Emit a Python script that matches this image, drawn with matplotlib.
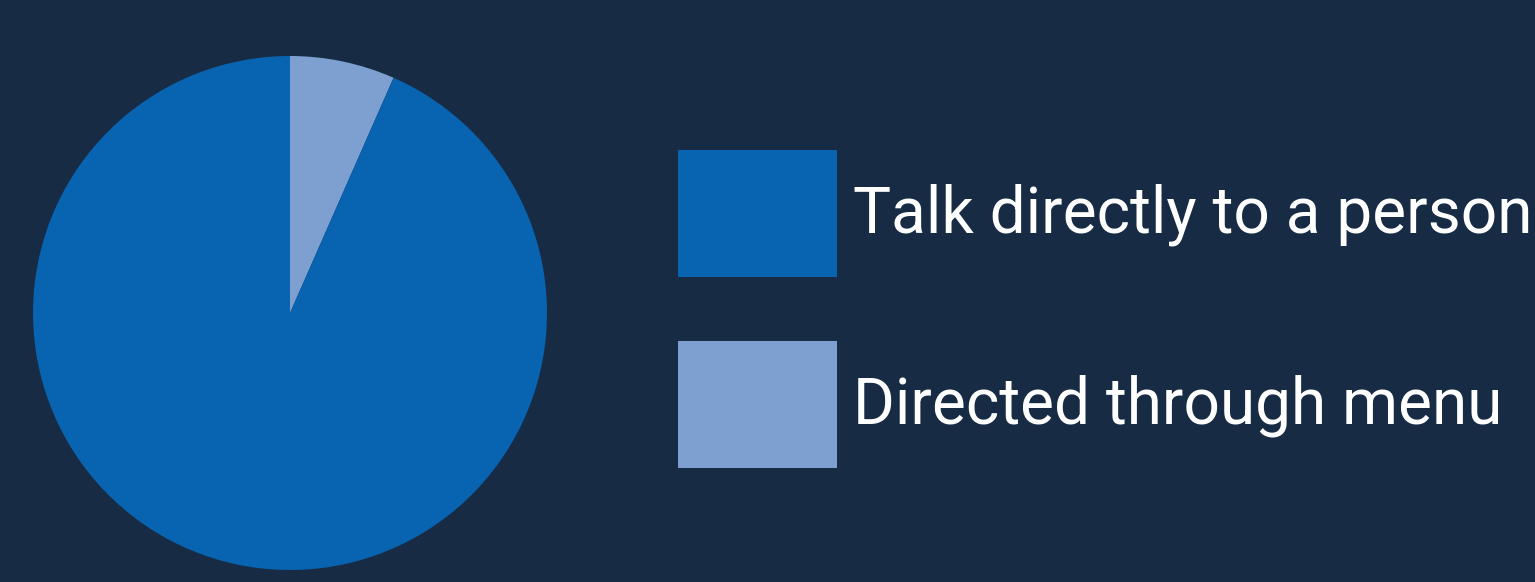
import matplotlib
matplotlib.use("Agg")
import matplotlib.pyplot as plt

# Share of callers by how they reach support
labels = ["Talk directly to a person", "Directed through menu"]
shares = [93.4, 6.6]
colors = ["#0863b0", "#7ea0d0"]
bg = "#172c44"

W, H = 1535, 582
fig = plt.figure(figsize=(W / 100, H / 100), dpi=100, facecolor=bg)

# pie centred at (290, 313) px with radius 257 px
cx, cy, r = 290, 313, 257
ax = fig.add_axes([(cx - r) / W, (H - cy - r) / H, 2 * r / W, 2 * r / H])
ax.set_facecolor(bg)
wedges, _ = ax.pie(shares[::-1], colors=colors[::-1], startangle=90,
                   counterclock=False, radius=1,
                   wedgeprops=dict(linewidth=0))
ax.set_xlim(-1, 1)
ax.set_ylim(-1, 1)
ax.set_aspect("equal")
ax.axis("off")

fs = 46
fs_px = fs * 100 / 72
# handle patch height = fs * (0.65 * hh + 0.245)
hh = (127 / fs_px - 0.245) / 0.65
leg = fig.legend(wedges[::-1], labels, loc="upper left",
                 bbox_to_anchor=(678 / W, 1 - 150 / H),
                 frameon=False,
                 handlelength=159 / fs_px, handleheight=hh,
                 handletextpad=0.25, labelspacing=64 / fs_px,
                 borderpad=0, borderaxespad=0,
                 prop={"family": "Roboto", "size": fs})
for t in leg.get_texts():
    t.set_color("white")

fig.savefig("out.png", dpi=100, facecolor=bg)
